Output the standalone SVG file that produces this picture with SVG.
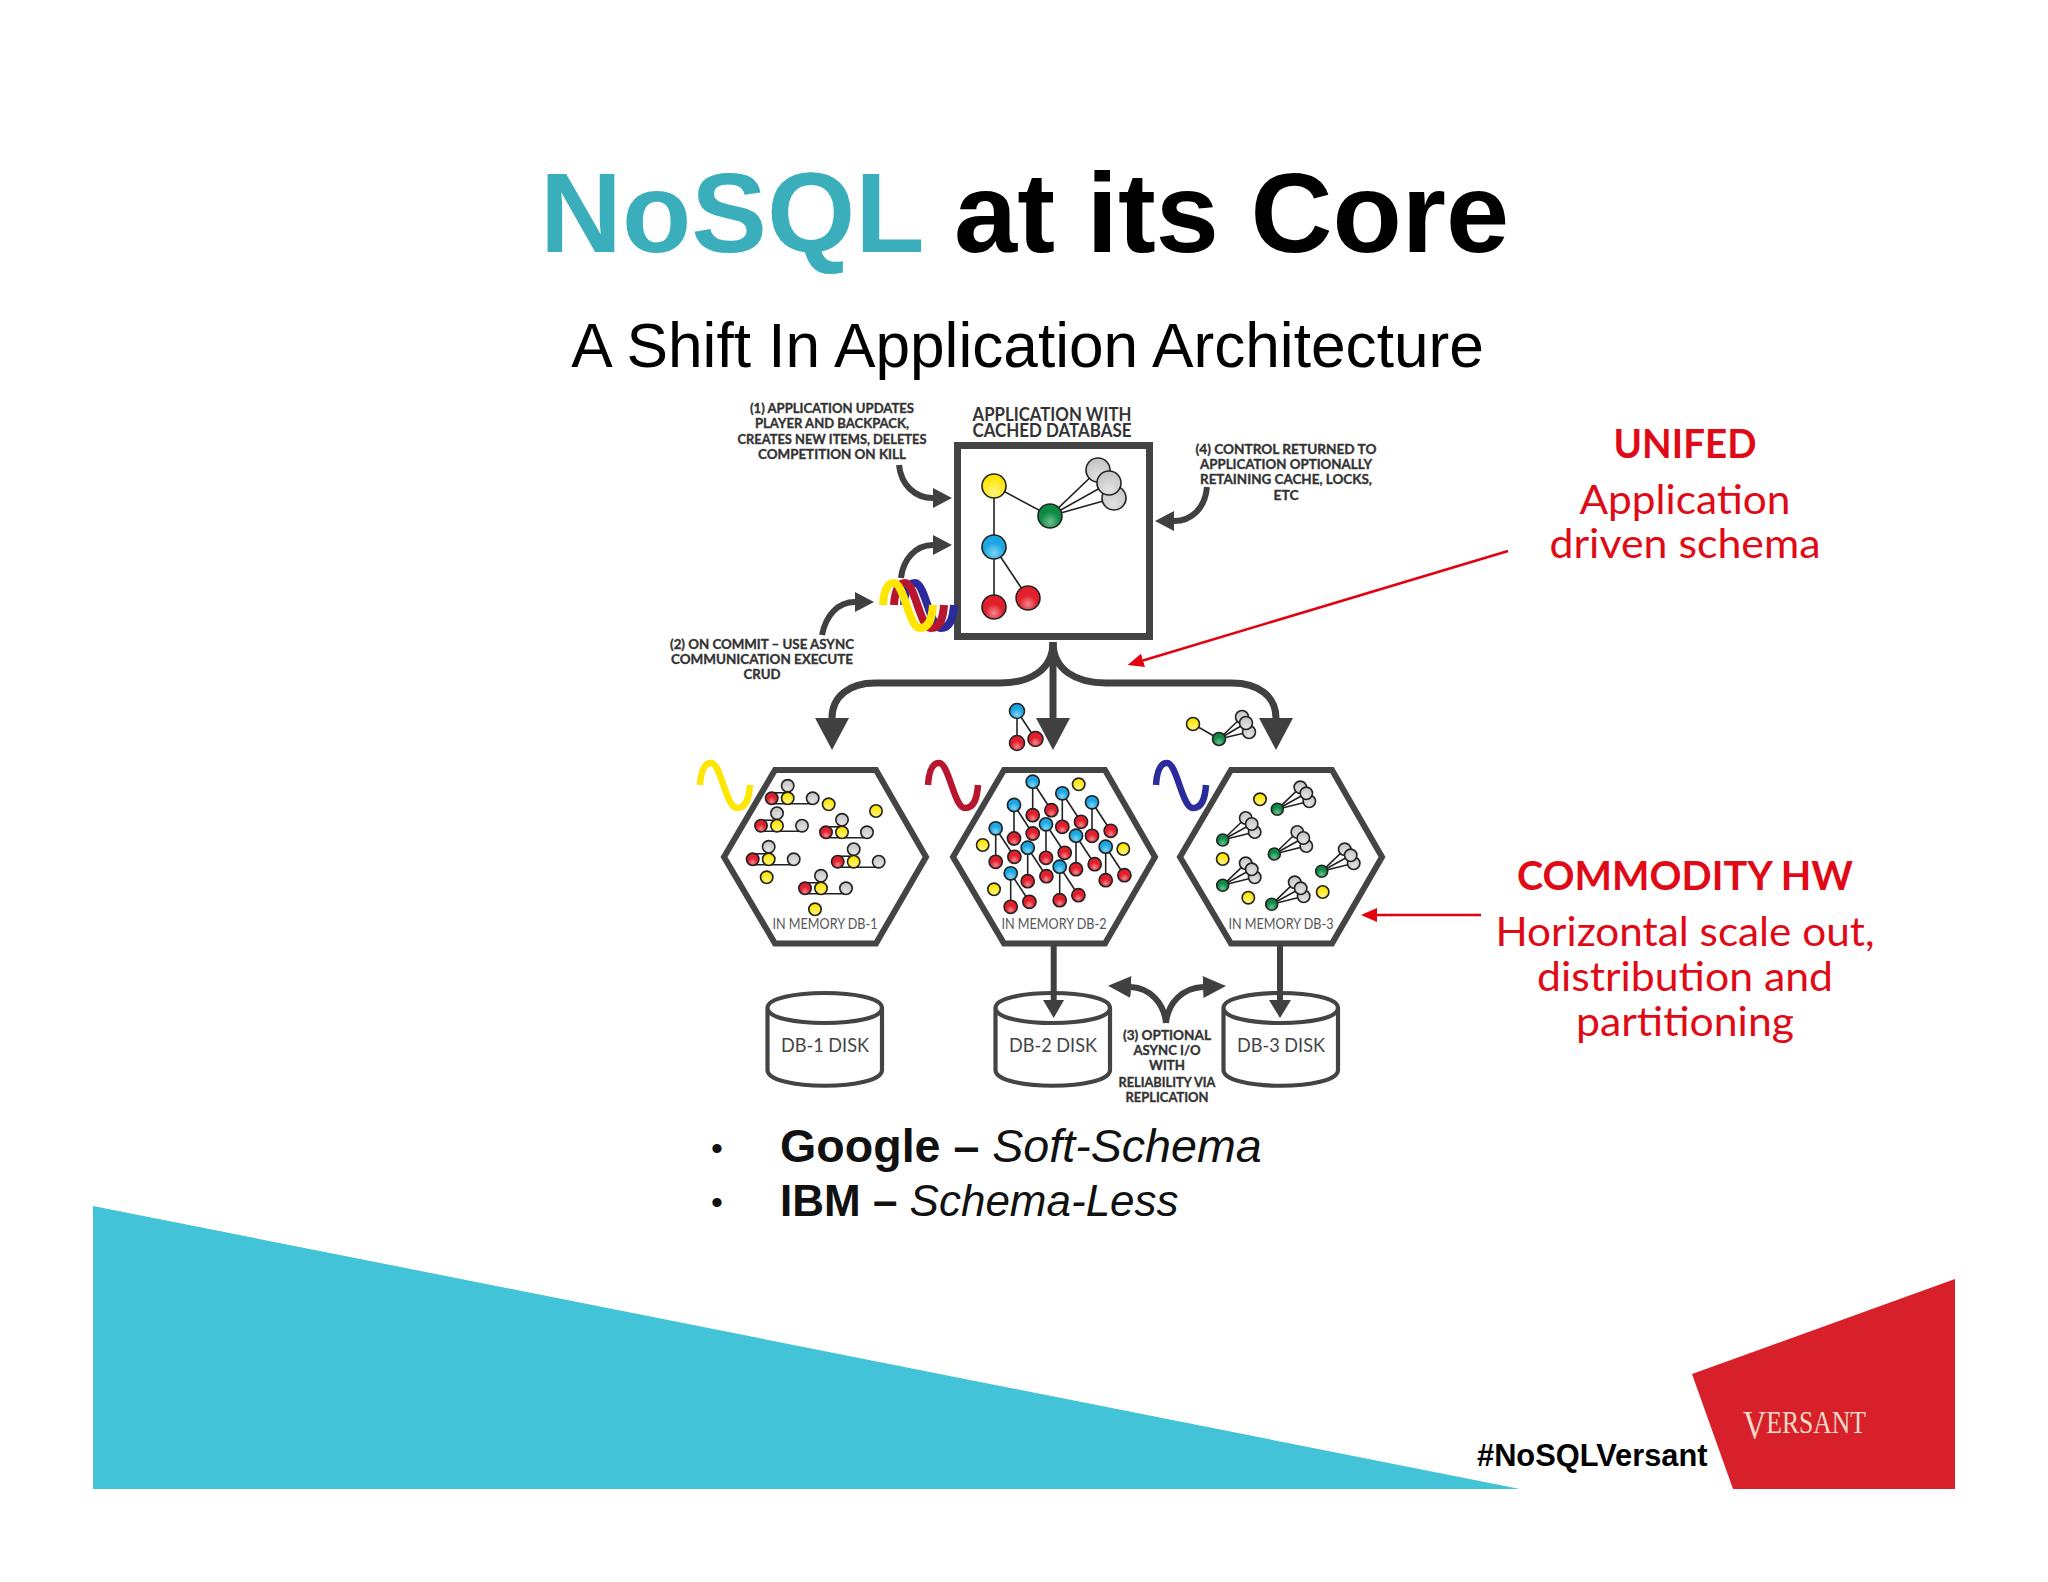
<svg xmlns="http://www.w3.org/2000/svg" width="2048" height="1582" viewBox="0 0 2048 1582">
<style>
text{font-family:"Liberation Sans",Arial,sans-serif}
.c{text-anchor:middle}
.sm{font-family:Lato,"Liberation Sans",sans-serif;font-weight:700;font-size:14px;fill:#333;stroke:#333;stroke-width:.35;text-anchor:middle}
.hd{font-family:Lato,"Liberation Sans",sans-serif;font-weight:700;font-size:19px;fill:#333;text-anchor:middle}
.mem{font-family:Lato,"Liberation Sans",sans-serif;font-size:15px;fill:#555;text-anchor:middle}
.dsk{font-family:Lato,"Liberation Sans",sans-serif;font-size:20px;fill:#444;text-anchor:middle}
.rb{font-family:Lato,"Open Sans",sans-serif;font-weight:700;font-size:41px;fill:#e00a16;text-anchor:middle}
.rn{font-family:Lato,"Open Sans",sans-serif;font-size:41px;fill:#e00a16;text-anchor:middle}
.bl{fill:#111}
.hex{fill:#fff;stroke:#444;stroke-width:6;stroke-linejoin:miter}
.dk{fill:#fff;stroke:#444;stroke-width:4.2}
.ln{stroke:#222;stroke-width:1.6;fill:none}
.n{stroke:#222;stroke-width:1.6}
.y{fill:url(#gy)}.r{fill:url(#gr)}.b{fill:url(#gb)}.g{fill:url(#gg)}.e{fill:url(#ge)}
.thick{fill:none;stroke:#404040;stroke-width:7}
.mid{fill:none;stroke:#404040;stroke-width:6}
.red{fill:none;stroke:#e3000f;stroke-width:2.6}
.wave{fill:none;stroke-width:6.5;stroke-linecap:butt}
.waveB{fill:none;stroke-width:8}
</style>
<defs>
<radialGradient id="gy" cy=".75" r=".6"><stop offset="0" stop-color="#fff47a"/><stop offset="1" stop-color="#ffe400"/></radialGradient>
<radialGradient id="gr" cy=".75" r=".6"><stop offset="0" stop-color="#f28a8f"/><stop offset=".6" stop-color="#e2202d"/></radialGradient>
<radialGradient id="gb" cy=".75" r=".6"><stop offset="0" stop-color="#7fd4f5"/><stop offset=".7" stop-color="#1ba6e2"/></radialGradient>
<radialGradient id="gg" cy=".75" r=".6"><stop offset="0" stop-color="#6cc08f"/><stop offset=".7" stop-color="#0e8a45"/></radialGradient>
<radialGradient id="ge" cy=".75" r=".6"><stop offset="0" stop-color="#e2e2e2"/><stop offset="1" stop-color="#c8c8c8"/></radialGradient>
<marker id="hBig" markerUnits="userSpaceOnUse" markerWidth="32" markerHeight="34" refX="0" refY="17" orient="auto"><polygon points="0,0 32,17 0,34" fill="#404040"/></marker>
<marker id="hSm" markerUnits="userSpaceOnUse" markerWidth="19" markerHeight="20" refX="0" refY="10" orient="auto"><polygon points="0,0 19,10 0,20" fill="#404040"/></marker>
<marker id="hRep" markerUnits="userSpaceOnUse" markerWidth="23" markerHeight="22" refX="0" refY="11" orient="auto"><polygon points="0,0 23,11 0,22" fill="#404040"/></marker>
<marker id="hRed" markerUnits="userSpaceOnUse" markerWidth="16" markerHeight="14" refX="0" refY="7" orient="auto"><polygon points="0,0 16,7 0,14" fill="#e3000f"/></marker>
<polygon id="hexShape" points="775,770 876,770 926,857 876,943.5 775,943.5 724,857"/>
<path id="diskShape" d="M767.5,1008 V1070 C767.5,1091 882,1091 882,1070 V1008 C882,988 767.5,988 767.5,1008 C767.5,1028 882,1028 882,1008"/>
<path id="waveShape" d="M0,22 C1,6 5,0 11,0 C21,0 26,45 37,45 C46,45 49,36 50,22"/>
<g id="c1">
<line class="ln" x1="0" y1="5.5" x2="41" y2="5.5"/><line class="ln" x1="0" y1="-5.5" x2="16" y2="-5.5"/>
<circle class="n e" cx="16" cy="-12.5" r="6.2"/><circle class="n e" cx="41" cy="0" r="6.2"/>
<circle class="n r" cx="0" cy="0" r="6.2"/><circle class="n y" cx="16" cy="0" r="6.2"/>
</g>
<g id="c2">
<line class="ln" x1="0" y1="0" x2="0" y2="33.5"/><line class="ln" x1="0" y1="0" x2="18.7" y2="28.5"/>
<circle class="n r" cx="0" cy="33.5" r="6.6"/><circle class="n r" cx="18.7" cy="28.5" r="6.6"/>
<circle class="n b" cx="0" cy="0" r="6.6"/>
</g>
<g id="c3">
<line class="ln" x1="0" y1="0" x2="23" y2="-22"/><line class="ln" x1="0" y1="0" x2="29" y2="-16"/><line class="ln" x1="0" y1="0" x2="32" y2="-8"/>
<circle class="n e" cx="23" cy="-22" r="6.2"/><circle class="n e" cx="32" cy="-8" r="6.2"/><circle class="n e" cx="29" cy="-16" r="6.2"/>
<circle class="n g" cx="0" cy="0" r="6"/>
</g>
<circle id="ys" class="n y" r="6.2"/>
</defs>

<rect width="2048" height="1582" fill="#fff"/>

<g id="footer">
<polygon points="93,1206 93,1489 1520,1489" fill="#42c3d7"/>
<polygon points="1955,1279 1692,1374 1733,1489 1955,1489" fill="#d8202a"/>
<text x="1743" y="1433" textLength="123" lengthAdjust="spacingAndGlyphs" style="font-family:'Liberation Serif',serif;font-size:31px" fill="#f6dcc8"><tspan font-size="39" dy="5">V</tspan><tspan dy="-5">ERSANT</tspan></text>
<text x="1477" y="1466" font-size="30.8" font-weight="700" fill="#000">#NoSQLVersant</text>
</g>

<g id="title">
<text x="1024.5" y="251.5" class="c" font-size="113.5" font-weight="700" fill="#000"><tspan fill="#3aafbb">NoSQL</tspan> at its Core</text>
<text x="1027.5" y="367" class="c" font-size="62.2" fill="#000">A Shift In Application Architecture</text>
</g>

<g id="connectors">
<path class="thick" marker-end="url(#hBig)" d="M1053,642 V718"/>
<path class="thick" marker-end="url(#hBig)" d="M1053,642 C1053,670 1030,683 1000,683 H875 C850,683 832,696 832,718"/>
<path class="thick" marker-end="url(#hBig)" d="M1053,642 C1053,670 1076,683 1106,683 H1232 C1258,683 1276,696 1276,718"/>
<path class="mid" marker-end="url(#hSm)" d="M899,465 C901,485 915,498 933,498"/>
<path class="mid" marker-end="url(#hSm)" d="M901,578 C903,560 915,545 933,545"/>
<path class="mid" marker-end="url(#hSm)" d="M822,635 C826,615 838,602 855,602"/>
<path class="mid" marker-end="url(#hSm)" d="M1207,487 C1205,508 1192,521 1174,521"/>
<path class="mid" marker-end="url(#hRep)" d="M1166,1023 C1164,1003 1150,988 1131,987"/>
<path class="mid" marker-end="url(#hRep)" d="M1166,1023 C1168,1003 1182,988 1203,987"/>
<path class="red" marker-end="url(#hRed)" d="M1508,551 L1143,660.4"/>
<path class="red" marker-end="url(#hRed)" d="M1481,915 H1377"/>
</g>

<g id="app-box">
<rect x="957.5" y="445.5" width="192" height="191" fill="#fff" stroke="#444" stroke-width="7"/>
<path class="ln" d="M994,486 L1050,516 M994,486 L994,547 M994,547 L994,607 M994,547 L1028,598 M1050,516 L1098,470 M1050,516 L1109,483 M1050,516 L1114,498"/>
<circle class="n e" cx="1098" cy="470" r="12"/><circle class="n e" cx="1114" cy="498" r="12"/><circle class="n e" cx="1109" cy="483" r="12"/>
<circle class="n y" cx="994" cy="486" r="12"/><circle class="n g" cx="1050" cy="516" r="12"/><circle class="n b" cx="994" cy="547" r="12"/>
<circle class="n r" cx="994" cy="607" r="12"/><circle class="n r" cx="1028" cy="598" r="12"/>
<text class="hd" x="1052" y="421" textLength="159" lengthAdjust="spacingAndGlyphs">APPLICATION WITH</text>
<text class="hd" x="1052" y="437" textLength="159" lengthAdjust="spacingAndGlyphs">CACHED DATABASE</text>
</g>

<g id="note-1">
<text class="sm" x="832" y="413" textLength="164" lengthAdjust="spacingAndGlyphs">(1) APPLICATION UPDATES</text>
<text class="sm" x="832" y="428" textLength="154" lengthAdjust="spacingAndGlyphs">PLAYER AND BACKPACK,</text>
<text class="sm" x="832" y="444" textLength="189" lengthAdjust="spacingAndGlyphs">CREATES NEW ITEMS, DELETES</text>
<text class="sm" x="832" y="459" textLength="148" lengthAdjust="spacingAndGlyphs">COMPETITION ON KILL</text>
</g>
<g id="note-4">
<text class="sm" x="1286" y="454" textLength="181" lengthAdjust="spacingAndGlyphs">(4) CONTROL RETURNED TO</text>
<text class="sm" x="1286" y="469" textLength="172" lengthAdjust="spacingAndGlyphs">APPLICATION OPTIONALLY</text>
<text class="sm" x="1286" y="484" textLength="172" lengthAdjust="spacingAndGlyphs">RETAINING CACHE, LOCKS,</text>
<text class="sm" x="1286" y="500" textLength="25" lengthAdjust="spacingAndGlyphs">ETC</text>
</g>
<g id="note-2">
<text class="sm" x="762" y="649" textLength="184" lengthAdjust="spacingAndGlyphs">(2) ON COMMIT – USE ASYNC</text>
<text class="sm" x="762" y="664" textLength="182" lengthAdjust="spacingAndGlyphs">COMMUNICATION EXECUTE</text>
<text class="sm" x="762" y="679" textLength="37" lengthAdjust="spacingAndGlyphs">CRUD</text>
</g>
<g id="note-3">
<text class="sm" x="1167" y="1040" textLength="88" lengthAdjust="spacingAndGlyphs">(3) OPTIONAL</text>
<text class="sm" x="1167" y="1055" textLength="67" lengthAdjust="spacingAndGlyphs">ASYNC I/O</text>
<text class="sm" x="1167" y="1070" textLength="36" lengthAdjust="spacingAndGlyphs">WITH</text>
<text class="sm" x="1167" y="1087" textLength="97" lengthAdjust="spacingAndGlyphs">RELIABILITY VIA</text>
<text class="sm" x="1167" y="1102" textLength="83" lengthAdjust="spacingAndGlyphs">REPLICATION</text>
</g>

<g id="wave-stack">
<use href="#waveShape" class="waveB" stroke="#2b2b9c" x="904" y="583"/>
<use href="#waveShape" class="waveB" stroke="#b7162e" x="894" y="583"/>
<use href="#waveShape" class="waveB" stroke="#ffe600" x="883" y="583"/>
</g>

<g id="packet-blue">
<line class="ln" x1="1017" y1="711" x2="1017" y2="743"/><line class="ln" x1="1017" y1="711" x2="1035.5" y2="739"/>
<circle class="n b" cx="1017" cy="711" r="7.5"/><circle class="n r" cx="1017" cy="743" r="7.5"/><circle class="n r" cx="1035.5" cy="739" r="7.5"/>
</g>
<g id="packet-green">
<line class="ln" x1="1193" y1="724" x2="1219" y2="739"/><line class="ln" x1="1219" y1="739" x2="1242" y2="717"/><line class="ln" x1="1219" y1="739" x2="1246" y2="723"/><line class="ln" x1="1219" y1="739" x2="1249" y2="732"/>
<circle class="n e" cx="1242" cy="717" r="6.5"/><circle class="n e" cx="1249" cy="732" r="6.5"/><circle class="n e" cx="1246" cy="723" r="6.5"/>
<circle class="n y" cx="1193" cy="724" r="6.5"/><circle class="n g" cx="1219" cy="739" r="6.5"/>
</g>

<g id="db1-memory">
<use href="#hexShape" class="hex"/>
<use href="#waveShape" class="wave" stroke="#ffe600" x="700" y="763"/>
<use href="#c1" x="771.7" y="798.3"/><use href="#c1" x="761" y="825.7"/><use href="#c1" x="826" y="832.3"/><use href="#c1" x="752.7" y="859.3"/><use href="#c1" x="837.7" y="861.7"/><use href="#c1" x="805" y="888.3"/>
<use href="#ys" x="828.7" y="804.3"/><use href="#ys" x="876" y="811"/><use href="#ys" x="766.7" y="877.3"/><use href="#ys" x="815" y="909.3"/>
<text class="mem" x="825" y="929" textLength="105" lengthAdjust="spacingAndGlyphs">IN MEMORY DB-1</text>
</g>
<g id="db2-memory">
<use href="#hexShape" class="hex" x="229"/>
<use href="#waveShape" class="wave" stroke="#b7162e" x="928" y="763"/>
<use href="#c2" x="1032.7" y="781.7"/><use href="#c2" x="1014" y="805"/><use href="#c2" x="1062.3" y="793.3"/><use href="#c2" x="1092" y="802.3"/><use href="#c2" x="1046" y="824.3"/><use href="#c2" x="995.7" y="828.3"/><use href="#c2" x="1076" y="835.7"/><use href="#c2" x="1027.7" y="847.7"/><use href="#c2" x="1105.7" y="846.7"/><use href="#c2" x="1059.7" y="866.7"/><use href="#c2" x="1010.7" y="873.3"/>
<use href="#ys" x="1078.7" y="784.3"/><use href="#ys" x="982.7" y="845"/><use href="#ys" x="1123.3" y="849"/><use href="#ys" x="994" y="889.3"/>
<text class="mem" x="1054" y="929" textLength="105" lengthAdjust="spacingAndGlyphs">IN MEMORY DB-2</text>
</g>
<g id="db3-memory">
<use href="#hexShape" class="hex" x="456"/>
<use href="#waveShape" class="wave" stroke="#2b2b9c" x="1156" y="763"/>
<use href="#c3" x="1277.3" y="809.3"/><use href="#c3" x="1222.7" y="840"/><use href="#c3" x="1274.3" y="854"/><use href="#c3" x="1321.7" y="871.3"/><use href="#c3" x="1222.7" y="885.3"/><use href="#c3" x="1271.7" y="904.3"/>
<use href="#ys" x="1260" y="799.3"/><use href="#ys" x="1222.7" y="859"/><use href="#ys" x="1248.3" y="897.7"/><use href="#ys" x="1322.7" y="892"/>
<text class="mem" x="1281" y="929" textLength="105" lengthAdjust="spacingAndGlyphs">IN MEMORY DB-3</text>
</g>

<g id="db1-disk"><use href="#diskShape" class="dk"/><text class="dsk" x="825" y="1052" textLength="88" lengthAdjust="spacingAndGlyphs">DB-1 DISK</text></g>
<g id="db2-disk"><use href="#diskShape" class="dk" x="228"/><text class="dsk" x="1053" y="1052" textLength="88" lengthAdjust="spacingAndGlyphs">DB-2 DISK</text></g>
<g id="db3-disk"><use href="#diskShape" class="dk" x="456"/><text class="dsk" x="1281" y="1052" textLength="88" lengthAdjust="spacingAndGlyphs">DB-3 DISK</text></g>
<g id="connectors-to-disk">
<path class="mid" d="M1053.7,945 V1001 M1280,945 V1001"/>
<polygon points="1043,1000 1064,1000 1053.7,1018" fill="#404040"/>
<polygon points="1269,1000 1291,1000 1280,1018" fill="#404040"/>
</g>

<g id="callout-unified">
<text class="rb" x="1685" y="458" textLength="143" lengthAdjust="spacingAndGlyphs">UNIFED</text>
<text class="rn" x="1685" y="514" textLength="211" lengthAdjust="spacingAndGlyphs">Application</text>
<text class="rn" x="1685" y="558" textLength="271" lengthAdjust="spacingAndGlyphs">driven schema</text>
</g>
<g id="callout-commodity">
<text class="rb" x="1685" y="890" textLength="336" lengthAdjust="spacingAndGlyphs">COMMODITY HW</text>
<text class="rn" x="1685" y="946" textLength="379" lengthAdjust="spacingAndGlyphs">Horizontal scale out,</text>
<text class="rn" x="1685" y="991" textLength="296" lengthAdjust="spacingAndGlyphs">distribution and</text>
<text class="rn" x="1685" y="1036" textLength="218" lengthAdjust="spacingAndGlyphs">partitioning</text>
</g>

<g id="bullets">
<text class="bl" x="711" y="1160" font-size="34">•</text>
<text class="bl" x="780" y="1162" font-size="46.6"><tspan font-weight="700">Google – </tspan><tspan font-style="italic">Soft-Schema</tspan></text>
<text class="bl" x="711" y="1214" font-size="34">•</text>
<text class="bl" x="780" y="1216" font-size="44"><tspan font-weight="700">IBM – </tspan><tspan font-style="italic">Schema-Less</tspan></text>
</g>
</svg>
